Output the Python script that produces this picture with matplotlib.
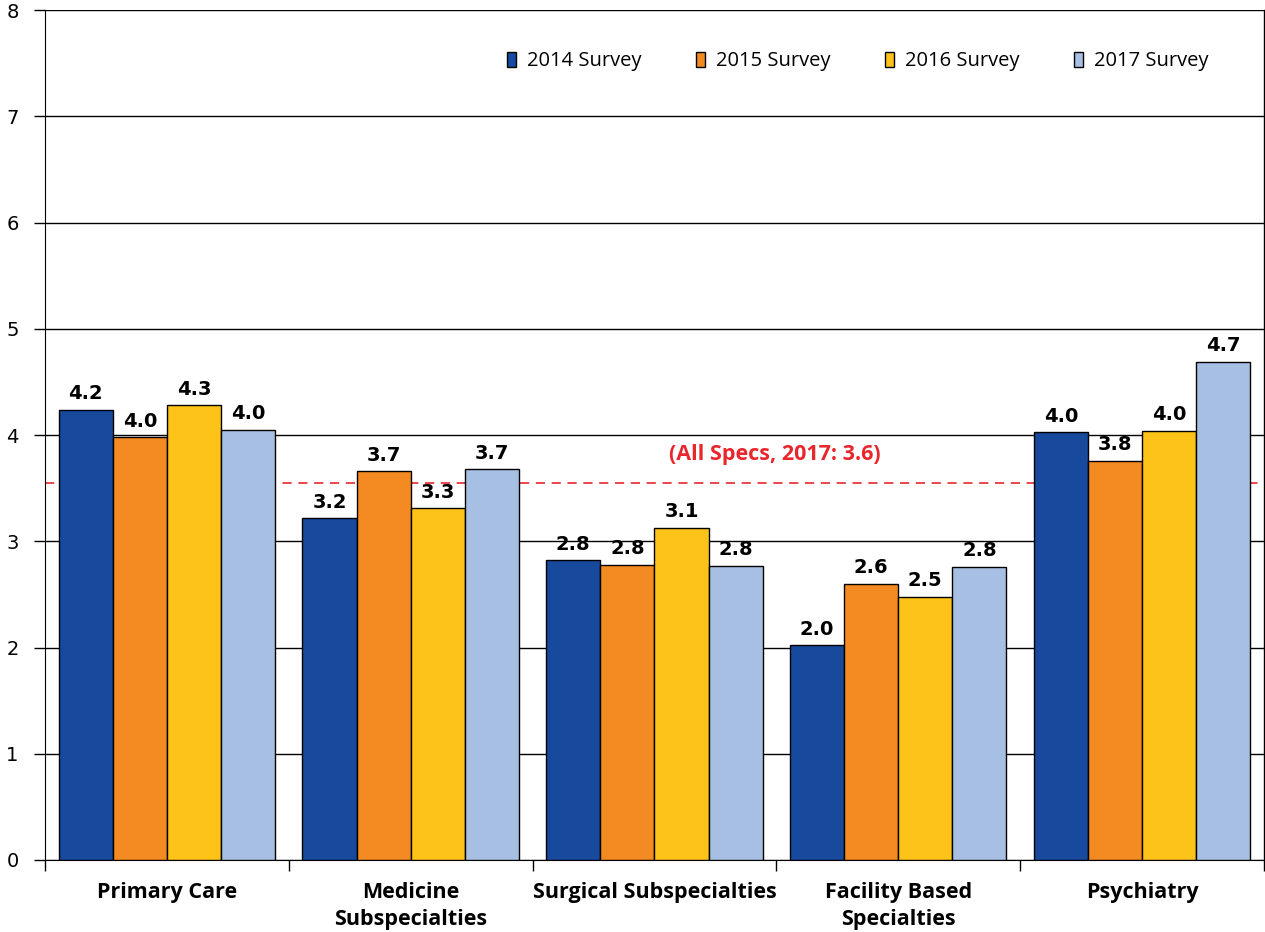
import numpy as np
import matplotlib.pyplot as plt

plt.rcParams['font.family'] = ['Open Sans', 'DejaVu Sans']

categories = ['Primary Care', 'Medicine\nSubspecialties', 'Surgical Subspecialties',
              'Facility Based\nSpecialties', 'Psychiatry']
series = ['2014 Survey', '2015 Survey', '2016 Survey', '2017 Survey']
v2014 = [4.24, 3.22, 2.82, 2.02, 4.03]
v2015 = [3.98, 3.66, 2.78, 2.60, 3.76]
v2016 = [4.28, 3.31, 3.13, 2.48, 4.04]
v2017 = [4.05, 3.68, 2.77, 2.76, 4.69]
all_specs = 3.55
colors = ['#174A9C', '#F48A22', '#FDC318', '#A7BFE3']

fig = plt.figure(figsize=(12.65, 9.32), dpi=100)
ax = fig.add_axes([0.0356, 0.0773, 0.9635, 0.9117])

x = np.arange(len(categories))
w = 0.222
for i, (vals, name) in enumerate(zip([v2014, v2015, v2016, v2017], series)):
    pos = x + (i - 1.5) * w
    ax.bar(pos, vals, w, color=colors[i], edgecolor='black', linewidth=1,
           label=name, zorder=3)
    for p, v in zip(pos, vals):
        ax.text(p, v + 0.06, f'{v:.1f}', ha='center', va='bottom',
                fontsize=14, fontweight='bold', family='DejaVu Sans', zorder=4)

# all specialties reference line
ax.axhline(all_specs, color='#E8262B', linestyle=(0, (5.5, 4)), linewidth=1.2, zorder=2)
ax.text(2.494, all_specs + 0.17, '(All Specs, 2017: 3.6)', color='#E8262B',
        ha='center', va='bottom', fontsize=15.5, fontweight='bold')

ax.set_ylim(0, 8)
ax.set_xlim(-0.5, len(categories) - 0.5)
ax.set_yticks(range(0, 9))
ax.set_yticklabels([str(t) for t in range(0, 9)], family='DejaVu Sans')
ax.yaxis.grid(True, color='black', linewidth=1, zorder=0)
ax.tick_params(axis='y', labelsize=14, length=8, direction='out', width=1, pad=11)

ax.set_xticks(x)
ax.set_xticklabels(categories, fontsize=15.5, fontweight='bold', linespacing=1.35)
ax.tick_params(axis='x', length=0, pad=16)
ax.set_xticks(np.arange(-0.5, len(categories)), minor=True)
ax.tick_params(axis='x', which='minor', length=8, width=1)

ax.spines['top'].set_visible(False)
ax.spines['right'].set_linewidth(1)

ax.legend(loc='center', bbox_to_anchor=(0.667, 0.94), ncol=4, frameon=False,
          fontsize=14.5, handlelength=0.45, handleheight=0.75, columnspacing=2.7,
          handletextpad=0.55)

fig.savefig('out.png', dpi=100)
